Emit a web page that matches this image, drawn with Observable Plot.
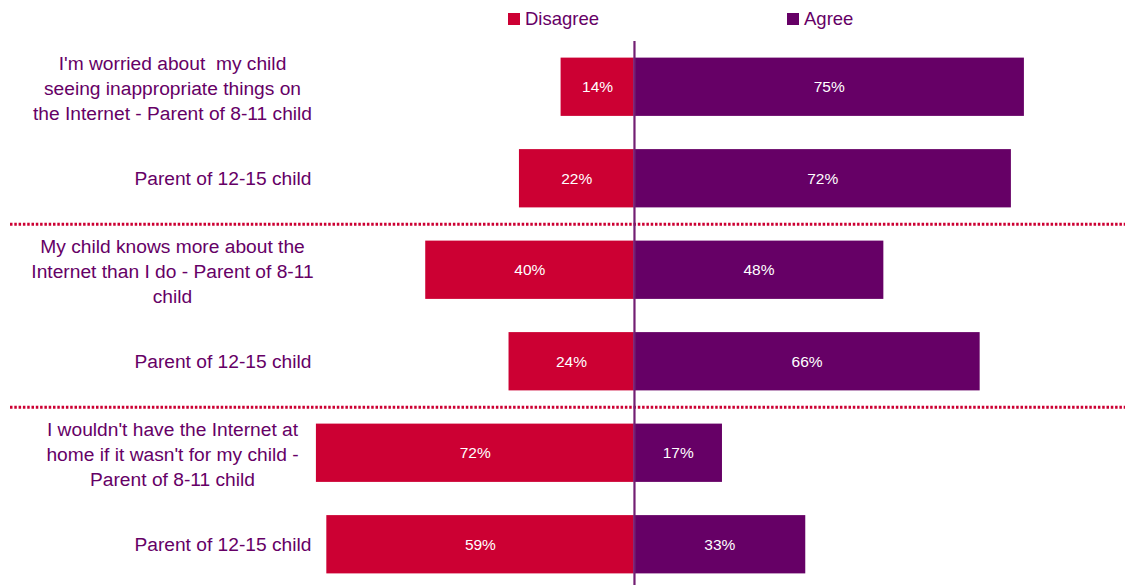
<!DOCTYPE html>
<html>
<head>
<meta charset="utf-8">
<script src="https://cdn.jsdelivr.net/npm/d3@7"></script>
<script src="https://cdn.jsdelivr.net/npm/@observablehq/plot@0.6"></script>
<style>
  html, body { margin: 0; padding: 0; background: #fff; }
  #wrap { position: relative; width: 1125px; height: 585px; font-family: "Liberation Sans", Arial, sans-serif; }
  #legend { position: absolute; top: 0; left: 0; width: 1125px; height: 38px; }
  .item { position: absolute; top: 8px; font-size: 18.5px; color: #660066; display: flex; align-items: center; }
  .sw { width: 12px; height: 12px; display: inline-block; margin-right: 5px; }
  svg text { white-space: pre; }
</style>
</head>
<body>
<div id="wrap">
  <div id="chart"></div>
  <div id="legend"></div>
</div>
<script>
const rows = ["r1", "r2", "r3", "r4", "r5", "r6"];
const rowLabels = [
  "I'm worried about  my child\nseeing inappropriate things on\nthe Internet - Parent of 8-11 child",
  "Parent of 12-15 child",
  "My child knows more about the\nInternet than I do - Parent of 8-11\nchild",
  "Parent of 12-15 child",
  "I wouldn't have the Internet at\nhome if it wasn't for my child -\nParent of 8-11 child",
  "Parent of 12-15 child"
];
const disagreeBar = [14, 22, 40, 24, 61, 59];
const disagreeText = ["14%", "22%", "40%", "24%", "72%", "59%"];
const agreeBar = [75, 72.5, 48, 66.5, 17, 33];
const agreeText = ["75%", "72%", "48%", "66%", "17%", "33%"];
const separatorsBefore = ["r3", "r5"];
const seriesNames = ["Disagree", "Agree"];
const seriesColors = ["#CC0033", "#660066"];

const data = rows.map((r, i) => ({
  row: r, label: rowLabels[i],
  dis: disagreeBar[i], disT: disagreeText[i],
  agr: agreeBar[i], agrT: agreeText[i],
  multi: rowLabels[i].includes("\n")
}));

const font = "Liberation Sans, Arial, sans-serif";

const chart = Plot.plot({
  width: 1125,
  height: 585,
  marginLeft: 217,
  marginRight: 23,
  marginTop: 48,
  marginBottom: 2,
  style: { fontFamily: font, background: "transparent" },
  x: { domain: [-80, 90], axis: null },
  y: { domain: rows, paddingInner: 0.363, paddingOuter: 0.105, round: false, axis: null },
  marks: [
    Plot.barX(data, { y: "row", x1: 0, x2: d => -d.dis, fill: seriesColors[0] }),
    Plot.barX(data, { y: "row", x1: 0, x2: d => d.agr, fill: seriesColors[1] }),
    Plot.text(data, { y: "row", x: d => -d.dis / 2, text: "disT", fill: "#fff", fontSize: 15.5 }),
    Plot.text(data, { y: "row", x: d => d.agr / 2, text: "agrT", fill: "#fff", fontSize: 15.5 }),
    Plot.ruleY(separatorsBefore, { y: d => d, dy: -46, stroke: "#CC0033", strokeWidth: 3, strokeDasharray: "2.5,1.8", insetLeft: -207, insetRight: -23 }),
    Plot.ruleX([0], { stroke: "#731F73", strokeWidth: 2.2, dx: 0.5, insetTop: -7, insetBottom: -2 }),
    Plot.text(data.filter(d => d.multi), { y: "row", frameAnchor: "left", dx: -45, text: "label", textAnchor: "middle", lineAnchor: "middle", lineHeight: 1.29, fontSize: 19.2, fill: "#660066" }),
    Plot.text(data.filter(d => !d.multi), { y: "row", frameAnchor: "left", dx: 94, text: "label", textAnchor: "end", lineAnchor: "middle", fontSize: 19.2, fill: "#660066" })
  ]
});
document.getElementById("chart").appendChild(chart);

const legend = document.getElementById("legend");
const legendX = [508, 787];
seriesNames.forEach((n, i) => {
  const el = document.createElement("div");
  el.className = "item";
  el.style.left = legendX[i] + "px";
  el.innerHTML = `<span class="sw" style="background:${seriesColors[i]}"></span>${n}`;
  legend.appendChild(el);
});
</script>
</body>
</html>
